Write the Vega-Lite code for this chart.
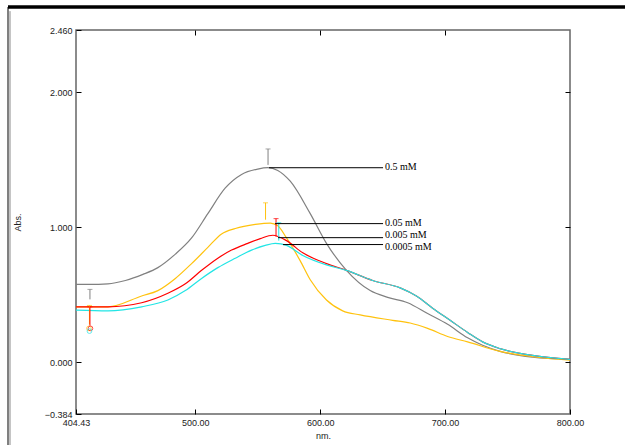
{
  "$schema": "https://vega.github.io/schema/vega-lite/v6.json",
  "autosize": {"type": "none"},
  "padding": {"left": 76, "top": 30, "right": 55, "bottom": 31},
  "width": 494,
  "height": 384,
  "background": "white",
  "config": {
    "view": {"stroke": "#666666", "strokeWidth": 1.5},
    "axis": {
      "labelFont": "Liberation Sans",
      "labelFontSize": 9,
      "labelColor": "#222222",
      "titleFont": "Liberation Sans",
      "titleFontSize": 9,
      "titleFontWeight": "normal",
      "titleColor": "#222222",
      "grid": false,
      "domain": false,
      "tickColor": "#000000",
      "tickWidth": 1,
      "labelFlush": false,
      "labelOverlap": false
    }
  },
  "datasets": {
    "curves": [
      {"nm": 404.43, "abs": 0.576, "series": "0.5 mM"},
      {"nm": 415, "abs": 0.576, "series": "0.5 mM"},
      {"nm": 430, "abs": 0.58, "series": "0.5 mM"},
      {"nm": 444, "abs": 0.605, "series": "0.5 mM"},
      {"nm": 458, "abs": 0.65, "series": "0.5 mM"},
      {"nm": 470, "abs": 0.70, "series": "0.5 mM"},
      {"nm": 484, "abs": 0.80, "series": "0.5 mM"},
      {"nm": 497, "abs": 0.92, "series": "0.5 mM"},
      {"nm": 510, "abs": 1.10, "series": "0.5 mM"},
      {"nm": 524, "abs": 1.29, "series": "0.5 mM"},
      {"nm": 537, "abs": 1.39, "series": "0.5 mM"},
      {"nm": 550, "abs": 1.43, "series": "0.5 mM"},
      {"nm": 558, "abs": 1.44, "series": "0.5 mM"},
      {"nm": 566, "abs": 1.42, "series": "0.5 mM"},
      {"nm": 576, "abs": 1.34, "series": "0.5 mM"},
      {"nm": 592, "abs": 1.10, "series": "0.5 mM"},
      {"nm": 605, "abs": 0.88, "series": "0.5 mM"},
      {"nm": 621, "abs": 0.68, "series": "0.5 mM"},
      {"nm": 640, "abs": 0.53, "series": "0.5 mM"},
      {"nm": 654, "abs": 0.48, "series": "0.5 mM"},
      {"nm": 670, "abs": 0.44, "series": "0.5 mM"},
      {"nm": 686, "abs": 0.36, "series": "0.5 mM"},
      {"nm": 702, "abs": 0.28, "series": "0.5 mM"},
      {"nm": 718, "abs": 0.18, "series": "0.5 mM"},
      {"nm": 730, "abs": 0.125, "series": "0.5 mM"},
      {"nm": 744, "abs": 0.08, "series": "0.5 mM"},
      {"nm": 770, "abs": 0.037, "series": "0.5 mM"},
      {"nm": 800, "abs": 0.02, "series": "0.5 mM"},

      {"nm": 404.43, "abs": 0.41, "series": "0.05 mM"},
      {"nm": 430, "abs": 0.41, "series": "0.05 mM"},
      {"nm": 457, "abs": 0.49, "series": "0.05 mM"},
      {"nm": 470, "abs": 0.53, "series": "0.05 mM"},
      {"nm": 484, "abs": 0.62, "series": "0.05 mM"},
      {"nm": 497, "abs": 0.73, "series": "0.05 mM"},
      {"nm": 510, "abs": 0.85, "series": "0.05 mM"},
      {"nm": 521, "abs": 0.95, "series": "0.05 mM"},
      {"nm": 532, "abs": 0.99, "series": "0.05 mM"},
      {"nm": 548, "abs": 1.02, "series": "0.05 mM"},
      {"nm": 560, "abs": 1.03, "series": "0.05 mM"},
      {"nm": 566, "abs": 1.01, "series": "0.05 mM"},
      {"nm": 573, "abs": 0.92, "series": "0.05 mM"},
      {"nm": 584, "abs": 0.75, "series": "0.05 mM"},
      {"nm": 592, "abs": 0.61, "series": "0.05 mM"},
      {"nm": 605, "abs": 0.46, "series": "0.05 mM"},
      {"nm": 618, "abs": 0.38, "series": "0.05 mM"},
      {"nm": 632, "abs": 0.35, "series": "0.05 mM"},
      {"nm": 658, "abs": 0.31, "series": "0.05 mM"},
      {"nm": 672, "abs": 0.29, "series": "0.05 mM"},
      {"nm": 686, "abs": 0.25, "series": "0.05 mM"},
      {"nm": 702, "abs": 0.19, "series": "0.05 mM"},
      {"nm": 718, "abs": 0.15, "series": "0.05 mM"},
      {"nm": 744, "abs": 0.08, "series": "0.05 mM"},
      {"nm": 770, "abs": 0.04, "series": "0.05 mM"},
      {"nm": 800, "abs": 0.015, "series": "0.05 mM"},

      {"nm": 404.43, "abs": 0.41, "series": "0.005 mM"},
      {"nm": 430, "abs": 0.41, "series": "0.005 mM"},
      {"nm": 457, "abs": 0.44, "series": "0.005 mM"},
      {"nm": 478, "abs": 0.51, "series": "0.005 mM"},
      {"nm": 492, "abs": 0.58, "series": "0.005 mM"},
      {"nm": 505, "abs": 0.68, "series": "0.005 mM"},
      {"nm": 518, "abs": 0.77, "series": "0.005 mM"},
      {"nm": 529, "abs": 0.83, "series": "0.005 mM"},
      {"nm": 542, "abs": 0.88, "series": "0.005 mM"},
      {"nm": 552, "abs": 0.915, "series": "0.005 mM"},
      {"nm": 562, "abs": 0.94, "series": "0.005 mM"},
      {"nm": 573, "abs": 0.90, "series": "0.005 mM"},
      {"nm": 586, "abs": 0.81, "series": "0.005 mM"},
      {"nm": 605, "abs": 0.73, "series": "0.005 mM"},
      {"nm": 621, "abs": 0.68, "series": "0.005 mM"},
      {"nm": 642, "abs": 0.605, "series": "0.005 mM"},
      {"nm": 664, "abs": 0.55, "series": "0.005 mM"},
      {"nm": 677, "abs": 0.49, "series": "0.005 mM"},
      {"nm": 690, "abs": 0.40, "series": "0.005 mM"},
      {"nm": 704, "abs": 0.31, "series": "0.005 mM"},
      {"nm": 718, "abs": 0.22, "series": "0.005 mM"},
      {"nm": 730, "abs": 0.15, "series": "0.005 mM"},
      {"nm": 744, "abs": 0.10, "series": "0.005 mM"},
      {"nm": 770, "abs": 0.05, "series": "0.005 mM"},
      {"nm": 800, "abs": 0.02, "series": "0.005 mM"},

      {"nm": 404.43, "abs": 0.385, "series": "0.0005 mM"},
      {"nm": 430, "abs": 0.38, "series": "0.0005 mM"},
      {"nm": 457, "abs": 0.41, "series": "0.0005 mM"},
      {"nm": 478, "abs": 0.46, "series": "0.0005 mM"},
      {"nm": 492, "abs": 0.53, "series": "0.0005 mM"},
      {"nm": 505, "abs": 0.62, "series": "0.0005 mM"},
      {"nm": 518, "abs": 0.70, "series": "0.0005 mM"},
      {"nm": 532, "abs": 0.77, "series": "0.0005 mM"},
      {"nm": 545, "abs": 0.83, "series": "0.0005 mM"},
      {"nm": 556, "abs": 0.865, "series": "0.0005 mM"},
      {"nm": 564, "abs": 0.88, "series": "0.0005 mM"},
      {"nm": 573, "abs": 0.865, "series": "0.0005 mM"},
      {"nm": 586, "abs": 0.79, "series": "0.0005 mM"},
      {"nm": 605, "abs": 0.72, "series": "0.0005 mM"},
      {"nm": 621, "abs": 0.68, "series": "0.0005 mM"},
      {"nm": 642, "abs": 0.605, "series": "0.0005 mM"},
      {"nm": 664, "abs": 0.55, "series": "0.0005 mM"},
      {"nm": 677, "abs": 0.49, "series": "0.0005 mM"},
      {"nm": 690, "abs": 0.40, "series": "0.0005 mM"},
      {"nm": 704, "abs": 0.31, "series": "0.0005 mM"},
      {"nm": 718, "abs": 0.22, "series": "0.0005 mM"},
      {"nm": 730, "abs": 0.15, "series": "0.0005 mM"},
      {"nm": 744, "abs": 0.10, "series": "0.0005 mM"},
      {"nm": 770, "abs": 0.05, "series": "0.0005 mM"},
      {"nm": 800, "abs": 0.02, "series": "0.0005 mM"}
    ],
    "labels": [
      {"series": "0.5 mM", "start": 559, "end": 650.3, "line": 1.44, "texty": 1.445},
      {"series": "0.05 mM", "start": 563.8, "end": 650.3, "line": 1.026, "texty": 1.03},
      {"series": "0.005 mM", "start": 566.2, "end": 650.3, "line": 0.922, "texty": 0.94},
      {"series": "0.0005 mM", "start": 570.2, "end": 650.3, "line": 0.871, "texty": 0.85}
    ],
    "markers": [
      {"series": "0.5 mM", "nm": 558.2, "top": 1.579, "bottom": 1.461},
      {"series": "0.05 mM", "nm": 556.2, "top": 1.18, "bottom": 1.055},
      {"series": "0.005 mM", "nm": 564.6, "top": 1.063, "bottom": 0.93},
      {"series": "0.0005 mM", "nm": 566.8, "top": 1.033, "bottom": 0.90},
      {"series": "0.5 mM", "nm": 415.6, "top": 0.539, "bottom": 0.465},
      {"series": "0.05 mM", "nm": 415.2, "top": 0.42, "bottom": 0.28},
      {"series": "0.005 mM", "nm": 415.6, "top": 0.41, "bottom": 0.27}
    ],
    "dots": [
      {"series": "0.05 mM", "nm": 414.8, "abs": 0.25},
      {"series": "0.005 mM", "nm": 416.0, "abs": 0.25},
      {"series": "0.0005 mM", "nm": 415.2, "abs": 0.23}
    ]
  },
  "layer": [
    {
      "data": {"name": "curves"},
      "mark": {"type": "line", "strokeWidth": 1.2, "clip": true, "interpolate": "monotone"},
      "encoding": {
        "x": {
          "field": "nm", "type": "quantitative",
          "scale": {"domain": [404.43, 800], "nice": false, "zero": false},
          "axis": {
            "orient": "bottom", "title": "nm.", "values": [404.43, 500, 600, 700, 800],
            "format": ".2f", "tickSize": -5, "labelPadding": 9, "titlePadding": 4
          }
        },
        "y": {
          "field": "abs", "type": "quantitative",
          "scale": {"domain": [-0.384, 2.46], "nice": false, "zero": false},
          "axis": {
            "orient": "left", "title": "Abs.", "values": [-0.384, 0, 1, 2, 2.46],
            "format": ".3f", "tickSize": -5, "labelPadding": 9, "titlePadding": 22
          }
        },
        "color": {
          "field": "series", "type": "nominal",
          "scale": {
            "domain": ["0.5 mM", "0.05 mM", "0.005 mM", "0.0005 mM"],
            "range": ["#808080", "#FFC20E", "#FF0000", "#22E5E5"]
          },
          "legend": null
        },
        "order": {"field": "nm", "type": "quantitative"}
      }
    },
    {
      "data": {"name": "curves"},
      "mark": {"type": "point", "opacity": 0},
      "encoding": {
        "x": {
          "field": "nm", "type": "quantitative",
          "axis": {"orient": "top", "title": null, "labels": false, "values": [500, 600, 700], "tickSize": -5}
        },
        "y": {
          "field": "abs", "type": "quantitative",
          "axis": {"orient": "right", "title": null, "labels": false, "values": [0, 1, 2], "tickSize": -5}
        }
      }
    },
    {
      "data": {"name": "markers"},
      "mark": {"type": "rule", "strokeWidth": 1},
      "encoding": {
        "x": {"field": "nm", "type": "quantitative", "axis": null},
        "y": {"field": "top", "type": "quantitative", "axis": null},
        "y2": {"field": "bottom"},
        "color": {"field": "series", "type": "nominal", "legend": null}
      }
    },
    {
      "data": {"name": "markers"},
      "mark": {"type": "tick", "thickness": 1, "size": 5, "orient": "horizontal"},
      "encoding": {
        "x": {"field": "nm", "type": "quantitative", "axis": null},
        "y": {"field": "top", "type": "quantitative", "axis": null},
        "color": {"field": "series", "type": "nominal", "legend": null}
      }
    },
    {
      "data": {"name": "dots"},
      "mark": {"type": "point", "size": 22, "strokeWidth": 1},
      "encoding": {
        "x": {"field": "nm", "type": "quantitative", "axis": null},
        "y": {"field": "abs", "type": "quantitative", "axis": null},
        "color": {"field": "series", "type": "nominal", "legend": null}
      }
    },
    {
      "data": {"name": "labels"},
      "mark": {"type": "rule", "color": "#000000", "strokeWidth": 1},
      "encoding": {
        "x": {"field": "start", "type": "quantitative", "axis": null},
        "x2": {"field": "end"},
        "y": {"field": "line", "type": "quantitative", "axis": null}
      }
    },
    {
      "data": {"name": "labels"},
      "mark": {"type": "text", "align": "left", "baseline": "middle", "dx": 2, "font": "Liberation Serif", "fontSize": 10, "color": "#000000"},
      "encoding": {
        "x": {"field": "end", "type": "quantitative", "axis": null},
        "y": {"field": "texty", "type": "quantitative", "axis": null},
        "text": {"field": "series"}
      }
    },
    {
      "data": {"values": [{}]},
      "mark": {"type": "rule", "color": "#000000", "strokeWidth": 3.5, "clip": false},
      "encoding": {
        "x": {"datum": 349.98, "type": "quantitative", "axis": null},
        "x2": {"datum": 844.04},
        "y": {"datum": 2.630, "type": "quantitative", "axis": null}
      }
    },
    {
      "data": {"values": [{}]},
      "mark": {"type": "rule", "color": "#000000", "strokeWidth": 1, "clip": false},
      "encoding": {
        "x": {"datum": 349.98, "type": "quantitative", "axis": null},
        "y": {"datum": 2.630, "type": "quantitative", "axis": null},
        "y2": {"datum": -0.6136}
      }
    },
    {
      "data": {"values": [{}]},
      "mark": {"type": "rule", "color": "#888888", "strokeWidth": 1, "clip": false},
      "encoding": {
        "x": {"datum": 351.58, "type": "quantitative", "axis": null},
        "y": {"datum": 2.600, "type": "quantitative", "axis": null},
        "y2": {"datum": -0.6136}
      }
    }
  ],
  "resolve": {"axis": {"x": "independent", "y": "independent"}}
}
